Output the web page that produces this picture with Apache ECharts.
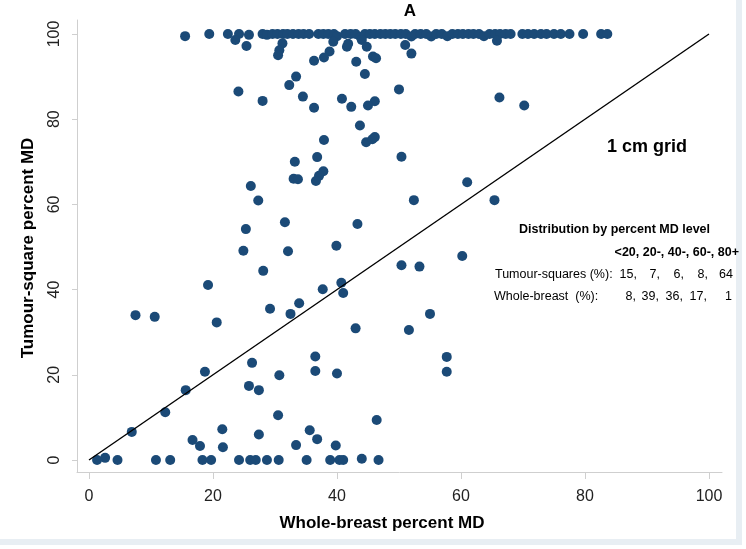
<!DOCTYPE html>
<html>
<head>
<meta charset="utf-8">
<script src="https://cdn.jsdelivr.net/npm/echarts@6/dist/echarts.min.js"></script>
<style>html,body{margin:0;padding:0;background:#fff}#c{width:746px;height:549px}</style>
</head>
<body>
<div id="c"></div>
<script>
// Whole-breast percent MD (x) and tumour-square percent MD (y)
const wholeBreast = [
  15.5,19.4,22.4,24.2,25.8,28.0,28.7,
  29.6,30.4,31.3,32.0,32.9,33.8,34.6,35.5,37.0,37.8,38.6,39.5,40.0,41.3,42.2,43.0,43.8,44.5,45.3,46.1,47.0,47.8,48.6,49.4,50.3,51.1,52.0,52.6,53.5,54.4,55.2,56.0,56.9,57.8,58.6,59.5,60.3,61.2,62.0,62.9,63.7,64.6,65.5,66.3,67.2,68.0,
  69.9,70.8,71.8,72.9,73.8,75.0,76.1,77.5,79.7,82.6,83.6,
  23.6,25.4,31.2,30.7,30.5,39.4,38.8,37.9,36.3,41.6,41.8,44.0,44.8,43.1,44.5,45.8,46.3,51.0,52.0,65.8,
  50.0,33.4,32.3,24.1,34.5,28.0,40.8,46.1,36.3,42.3,45.0,66.2,70.2,
  43.7,37.9,44.7,45.7,46.1,50.4,33.2,36.8,37.8,37.1,36.6,33.0,33.7,26.1,27.3,61.0,52.4,65.4,
  31.6,25.3,43.3,24.9,32.1,39.9,60.2,28.1,50.4,53.3,19.2,37.7,40.7,41.0,
  7.5,10.6,20.6,29.2,33.9,32.5,43.0,51.6,55.0,
  36.5,26.3,57.7,18.7,36.5,40.0,57.7,30.7,25.8,27.4,15.6,
  12.3,6.9,30.5,46.4,21.5,35.6,36.8,16.7,17.9,21.6,27.4,33.4,39.8,2.6,44.0,
  1.3,4.6,10.8,13.1,18.3,19.7,24.2,26.0,26.9,28.7,30.6,35.1,38.9,40.4,41.0,46.7
];
const tumourSquare = [
  99.5,100,100,100,99.8,100,99.8,
  100,100,100,100,100,100,100,100,100,100,100,100,99.5,100,100,100,99.3,100,100,100,100,100,100,100,100,100,99.4,100,100,100,99.4,100,100,99.5,100,100,100,100,100,100,99.5,100,100,100,100,100,
  100,100,100,100,100,100,100,100,100,100,100,
  98.6,97.2,97.8,96.2,95.0,98.2,95.9,94.5,93.7,97.0,97.7,98.6,97.0,93.5,90.6,94.7,94.3,97.4,95.4,98.4,
  87.0,90.0,88.0,86.5,85.3,84.3,84.8,84.2,82.7,82.9,83.2,85.1,83.2,
  78.5,75.1,74.6,75.3,75.8,71.2,70.0,71.1,67.8,66.7,65.5,66.0,65.9,64.3,60.9,65.2,61.0,61.0,
  55.8,54.2,55.4,49.1,49.0,50.3,47.9,44.4,45.7,45.4,41.1,40.1,41.6,39.2,
  34.0,33.6,32.3,35.5,36.8,34.3,30.9,30.5,34.3,
  24.3,22.8,24.2,20.7,20.9,20.3,20.7,19.9,17.4,16.4,16.4,
  11.2,6.6,10.5,9.4,7.2,7.0,4.9,4.7,3.3,3.0,6.0,3.5,3.4,0.5,0.3,
  0,0,0,0,0,0,0,0,0,0,0,0,0,0,0,0
];
// line of equality
const lineX = [0, 100];
const lineY = [0, 100];
const tickValues = [0, 20, 40, 60, 80, 100];

const title = 'A';
const xTitle = 'Whole-breast percent MD';
const yTitle = 'Tumour-square percent MD';
const gridNote = '1 cm grid';
const distTitle = 'Distribution by percent MD level';
const distHeader = '<20, 20-, 40-, 60-, 80+';
const rowLabels = ['Tumour-squares (%):', 'Whole-breast  (%):'];
const tumourDist = ['15,', '7,', '6,', '8,', '64'];
const wholeDist = ['8,', '39,', '36,', '17,', '1'];

const FONT = '"Liberation Sans", Arial, sans-serif';
const chart = echarts.init(document.getElementById('c'), null, {renderer: 'canvas'});

const pts = wholeBreast.map((x, i) => [x, tumourSquare[i]]);
const line = lineX.map((x, i) => [x, lineY[i]]);

const colX = [637, 660, 684, 708, 733];
const graphics = [
  {type: 'rect', shape: {x: 736, y: 0, width: 6, height: 545}, style: {fill: '#e8eef3'}, silent: true},
  {type: 'rect', shape: {x: 0, y: 539, width: 742, height: 6}, style: {fill: '#e8eef3'}, silent: true},
  {type: 'text', x: 410, y: 11, style: {text: title, font: 'bold 17px ' + FONT, fill: '#000', textAlign: 'center', textVerticalAlign: 'middle'}},
  {type: 'text', x: 382, y: 523, style: {text: xTitle, font: 'bold 17px ' + FONT, fill: '#000', textAlign: 'center', textVerticalAlign: 'middle'}},
  {type: 'text', x: 28, y: 248, rotation: Math.PI / 2, style: {text: yTitle, font: 'bold 17px ' + FONT, fill: '#000', textAlign: 'center', textVerticalAlign: 'middle'}},
  {type: 'text', x: 647, y: 147, style: {text: gridNote, font: 'bold 18px ' + FONT, fill: '#000', textAlign: 'center', textVerticalAlign: 'middle'}},
  {type: 'text', x: 614.5, y: 230, style: {text: distTitle, font: 'bold 12.5px ' + FONT, fill: '#000', textAlign: 'center', textVerticalAlign: 'middle'}},
  {type: 'text', x: 739, y: 253, style: {text: distHeader, font: 'bold 12.5px ' + FONT, fill: '#000', textAlign: 'right', textVerticalAlign: 'middle'}},
  {type: 'text', x: 495, y: 275, style: {text: rowLabels[0], font: '12.5px ' + FONT, fill: '#000', textAlign: 'left', textVerticalAlign: 'middle'}},
  {type: 'text', x: 494, y: 297, style: {text: rowLabels[1], font: '12.5px ' + FONT, fill: '#000', textAlign: 'left', textVerticalAlign: 'middle'}}
];
tumourDist.forEach((t, i) => graphics.push({type: 'text', x: colX[i], y: 275, style: {text: t, font: '12.5px ' + FONT, fill: '#000', textAlign: 'right', textVerticalAlign: 'middle'}}));
wholeDist.forEach((t, i) => graphics.push({type: 'text', x: colX[i] - 1, y: 297, style: {text: t, font: '12.5px ' + FONT, fill: '#000', textAlign: 'right', textVerticalAlign: 'middle'}}));

chart.setOption({
  animation: false,
  backgroundColor: '#ffffff',
  grid: {left: 77, right: 24, top: 20, bottom: 77},
  xAxis: {
    type: 'value', min: -1.935, max: 102.097,
    splitLine: {show: false},
    axisLine: {show: true, onZero: false, lineStyle: {color: '#cfcfcf', width: 1}},
    axisTick: {show: true, length: 7, customValues: tickValues, lineStyle: {color: '#cfcfcf'}},
    axisLabel: {customValues: tickValues, fontSize: 16, fontFamily: FONT, color: '#222', margin: 17}
  },
  yAxis: {
    type: 'value', min: -2.817, max: 103.286,
    splitLine: {show: false},
    axisLine: {show: true, onZero: false, lineStyle: {color: '#cfcfcf', width: 1}},
    axisTick: {show: true, length: 5, customValues: tickValues, lineStyle: {color: '#cfcfcf'}},
    axisLabel: {customValues: tickValues, fontSize: 16, fontFamily: FONT, color: '#222', rotate: 90, margin: 14}
  },
  series: [
    {type: 'scatter', data: pts, symbol: 'circle', symbolSize: 10, itemStyle: {color: '#1b4a77', opacity: 1}, z: 2},
    {type: 'line', data: line, symbol: 'none', lineStyle: {color: '#000', width: 1.4}, z: 3, silent: true}
  ],
  graphic: graphics
});
</script>
</body>
</html>
